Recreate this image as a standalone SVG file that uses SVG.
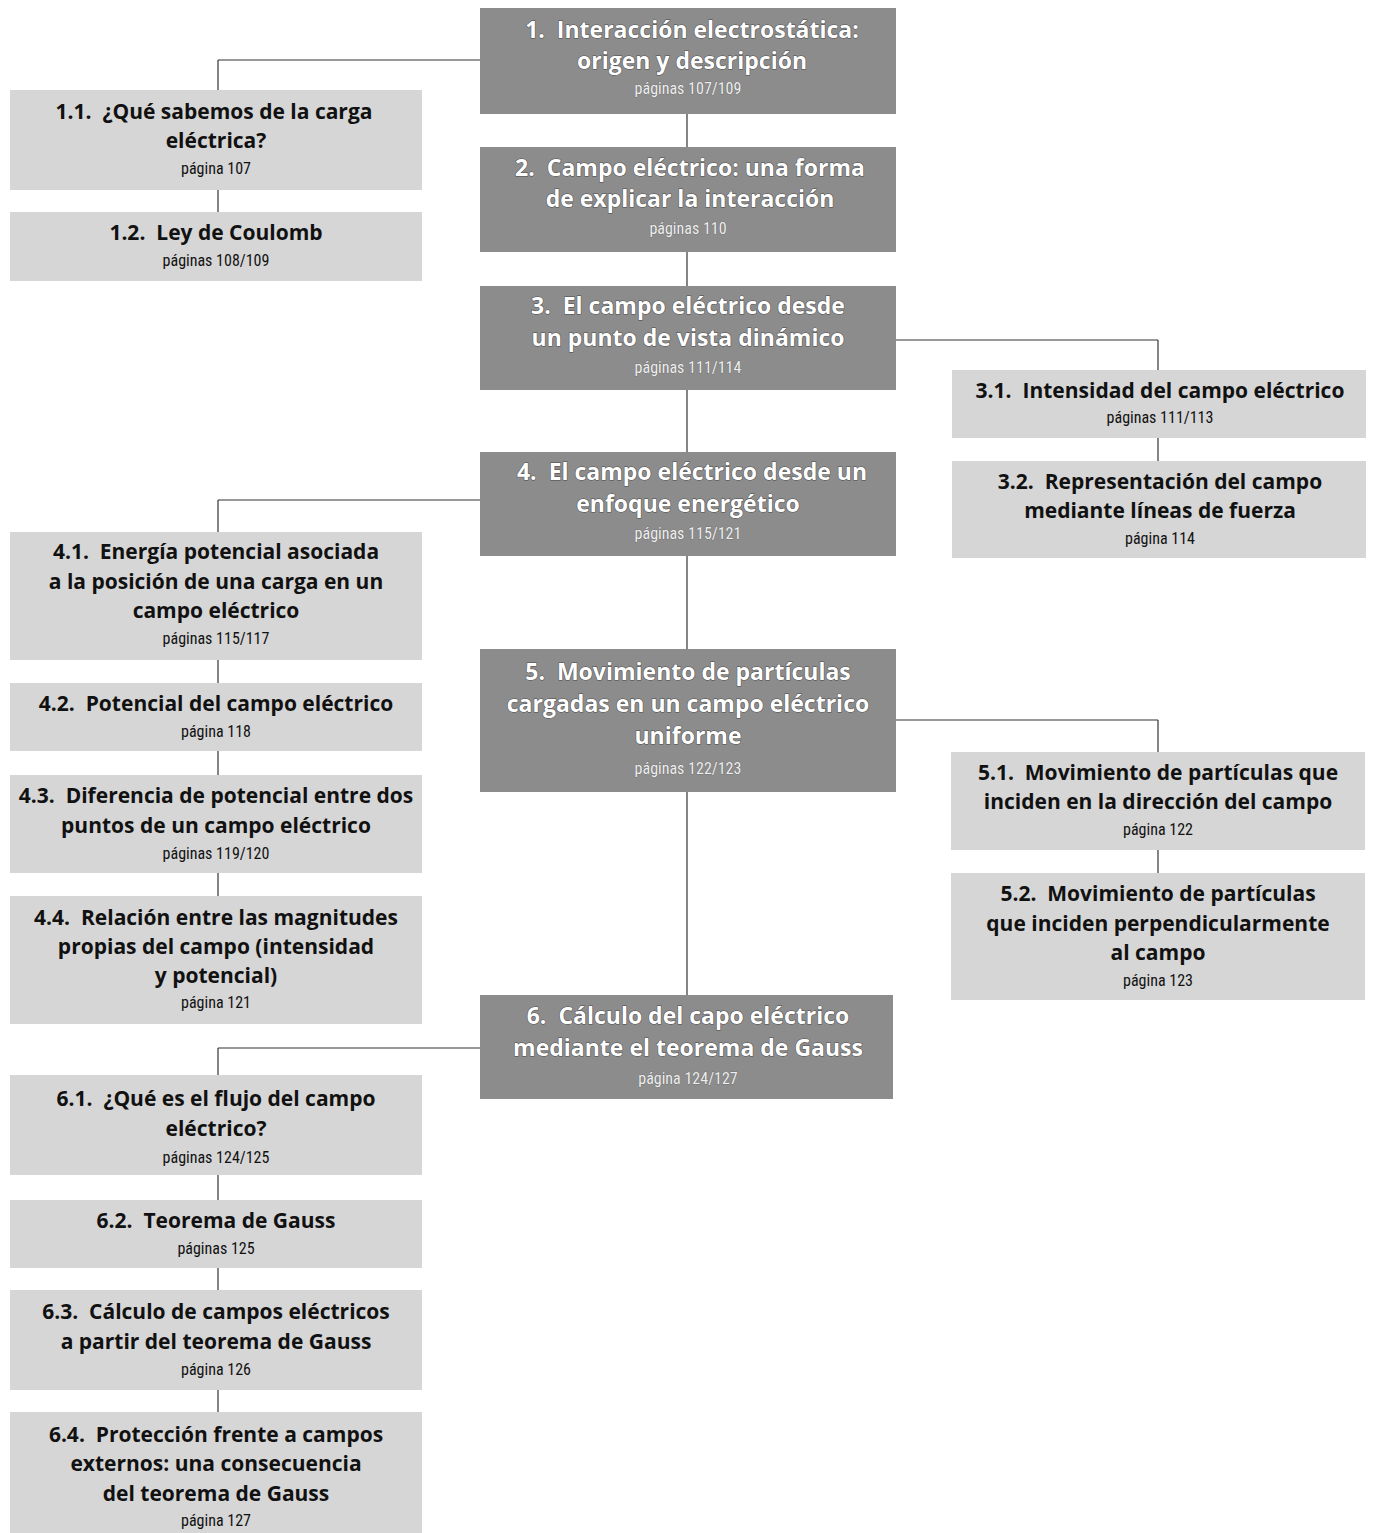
<svg xmlns="http://www.w3.org/2000/svg" width="1375" height="1533" viewBox="0 0 1375 1533">
<style>
.main rect{fill:#8c8c8c}
.sub rect{fill:#d6d6d6}
.main text{fill:#ffffff;font-family:"Open Sans","Liberation Sans",sans-serif;font-weight:700;font-size:23px;text-anchor:middle;stroke:#4a4a4a;stroke-width:1px;paint-order:stroke}
.sub text{fill:#111;font-family:"Open Sans","Liberation Sans",sans-serif;font-weight:700;font-size:21px;text-anchor:middle}
text.pg{font-family:"Roboto","Liberation Sans",sans-serif;font-weight:400;font-size:16px;stroke:none;font-stretch:condensed}
.main text.pg{fill:#eeeeee;stroke:#555;stroke-width:0.5px}
.conn line{stroke:#333;stroke-width:1.2}
</style>
<rect width="1375" height="1533" fill="#ffffff"/>
<g class="conn">
<line x1="687" y1="114" x2="687" y2="147"/>
<line x1="687" y1="252" x2="687" y2="286"/>
<line x1="687" y1="390" x2="687" y2="452"/>
<line x1="687" y1="556" x2="687" y2="649"/>
<line x1="687" y1="792" x2="687" y2="995"/>
<line x1="218" y1="60" x2="480" y2="60"/>
<line x1="218" y1="60" x2="218" y2="90"/>
<line x1="218" y1="190" x2="218" y2="212"/>
<line x1="896" y1="340" x2="1158" y2="340"/>
<line x1="1158" y1="340" x2="1158" y2="370"/>
<line x1="1158" y1="438" x2="1158" y2="461"/>
<line x1="218" y1="500" x2="480" y2="500"/>
<line x1="218" y1="500" x2="218" y2="532"/>
<line x1="218" y1="660" x2="218" y2="683"/>
<line x1="218" y1="751" x2="218" y2="775"/>
<line x1="218" y1="873" x2="218" y2="896"/>
<line x1="896" y1="720" x2="1158" y2="720"/>
<line x1="1158" y1="720" x2="1158" y2="752"/>
<line x1="1158" y1="850" x2="1158" y2="873"/>
<line x1="218" y1="1048" x2="480" y2="1048"/>
<line x1="218" y1="1048" x2="218" y2="1075"/>
<line x1="218" y1="1175" x2="218" y2="1200"/>
<line x1="218" y1="1268" x2="218" y2="1290"/>
<line x1="218" y1="1390" x2="218" y2="1412"/>
</g>
<g id="n1" class="main"><rect x="480" y="8" width="416" height="106"/>
<text x="692" y="38">1.&#160; Interacción electrostática:</text>
<text x="692" y="69">origen y descripción</text>
<text class="pg" x="688" y="94">páginas 107/109</text></g>
<g id="n2" class="main"><rect x="480" y="147" width="416" height="105"/>
<text x="690" y="176">2.&#160; Campo eléctrico: una forma</text>
<text x="690" y="207">de explicar la interacción</text>
<text class="pg" x="688" y="234">páginas 110</text></g>
<g id="n3" class="main"><rect x="480" y="286" width="416" height="104"/>
<text x="688" y="314">3.&#160; El campo eléctrico desde</text>
<text x="688" y="346">un punto de vista dinámico</text>
<text class="pg" x="688" y="373">páginas 111/114</text></g>
<g id="n4" class="main"><rect x="480" y="452" width="416" height="104"/>
<text x="692" y="480">4.&#160; El campo eléctrico desde un</text>
<text x="688" y="512">enfoque energético</text>
<text class="pg" x="688" y="539">páginas 115/121</text></g>
<g id="n5" class="main"><rect x="480" y="649" width="416" height="143"/>
<text x="688" y="680">5.&#160; Movimiento de partículas</text>
<text x="688" y="712">cargadas en un campo eléctrico</text>
<text x="688" y="744">uniforme</text>
<text class="pg" x="688" y="774">páginas 122/123</text></g>
<g id="n6" class="main"><rect x="480" y="995" width="413" height="104"/>
<text x="688" y="1024">6.&#160; Cálculo del capo eléctrico</text>
<text x="688" y="1056">mediante el teorema de Gauss</text>
<text class="pg" x="688" y="1084">página 124/127</text></g>
<g id="n1_1" class="sub"><rect x="10" y="90" width="412" height="100"/>
<text x="214" y="119">1.1.&#160; ¿Qué sabemos de la carga</text>
<text x="216" y="148">eléctrica?</text>
<text class="pg" x="216" y="174">página 107</text></g>
<g id="n1_2" class="sub"><rect x="10" y="212" width="412" height="69"/>
<text x="216" y="240">1.2.&#160; Ley de Coulomb</text>
<text class="pg" x="216" y="266">páginas 108/109</text></g>
<g id="n3_1" class="sub"><rect x="952" y="370" width="414" height="68"/>
<text x="1160" y="398">3.1.&#160; Intensidad del campo eléctrico</text>
<text class="pg" x="1160" y="423">páginas 111/113</text></g>
<g id="n3_2" class="sub"><rect x="952" y="461" width="414" height="97"/>
<text x="1160" y="489">3.2.&#160; Representación del campo</text>
<text x="1160" y="518">mediante líneas de fuerza</text>
<text class="pg" x="1160" y="544">página 114</text></g>
<g id="n4_1" class="sub"><rect x="10" y="532" width="412" height="128"/>
<text x="216" y="559">4.1.&#160; Energía potencial asociada</text>
<text x="216" y="589">a la posición de una carga en un</text>
<text x="216" y="618">campo eléctrico</text>
<text class="pg" x="216" y="644">páginas 115/117</text></g>
<g id="n4_2" class="sub"><rect x="10" y="683" width="412" height="68"/>
<text x="216" y="711">4.2.&#160; Potencial del campo eléctrico</text>
<text class="pg" x="216" y="737">página 118</text></g>
<g id="n4_3" class="sub"><rect x="10" y="775" width="412" height="98"/>
<text x="216" y="803">4.3.&#160; Diferencia de potencial entre dos</text>
<text x="216" y="833">puntos de un campo eléctrico</text>
<text class="pg" x="216" y="859">páginas 119/120</text></g>
<g id="n4_4" class="sub"><rect x="10" y="896" width="412" height="128"/>
<text x="216" y="925">4.4.&#160; Relación entre las magnitudes</text>
<text x="216" y="954">propias del campo (intensidad</text>
<text x="216" y="983">y potencial)</text>
<text class="pg" x="216" y="1008">página 121</text></g>
<g id="n5_1" class="sub"><rect x="951" y="752" width="414" height="98"/>
<text x="1158" y="780">5.1.&#160; Movimiento de partículas que</text>
<text x="1158" y="809">inciden en la dirección del campo</text>
<text class="pg" x="1158" y="835">página 122</text></g>
<g id="n5_2" class="sub"><rect x="951" y="873" width="414" height="127"/>
<text x="1158" y="901">5.2.&#160; Movimiento de partículas</text>
<text x="1158" y="931">que inciden perpendicularmente</text>
<text x="1158" y="960">al campo</text>
<text class="pg" x="1158" y="986">página 123</text></g>
<g id="n6_1" class="sub"><rect x="10" y="1075" width="412" height="100"/>
<text x="216" y="1106">6.1.&#160; ¿Qué es el flujo del campo</text>
<text x="216" y="1136">eléctrico?</text>
<text class="pg" x="216" y="1163">páginas 124/125</text></g>
<g id="n6_2" class="sub"><rect x="10" y="1200" width="412" height="68"/>
<text x="216" y="1228">6.2.&#160; Teorema de Gauss</text>
<text class="pg" x="216" y="1254">páginas 125</text></g>
<g id="n6_3" class="sub"><rect x="10" y="1290" width="412" height="100"/>
<text x="216" y="1319">6.3.&#160; Cálculo de campos eléctricos</text>
<text x="216" y="1349">a partir del teorema de Gauss</text>
<text class="pg" x="216" y="1375">página 126</text></g>
<g id="n6_4" class="sub"><rect x="10" y="1412" width="412" height="121"/>
<text x="216" y="1442">6.4.&#160; Protección frente a campos</text>
<text x="216" y="1471">externos: una consecuencia</text>
<text x="216" y="1501">del teorema de Gauss</text>
<text class="pg" x="216" y="1526">página 127</text></g>
</svg>
